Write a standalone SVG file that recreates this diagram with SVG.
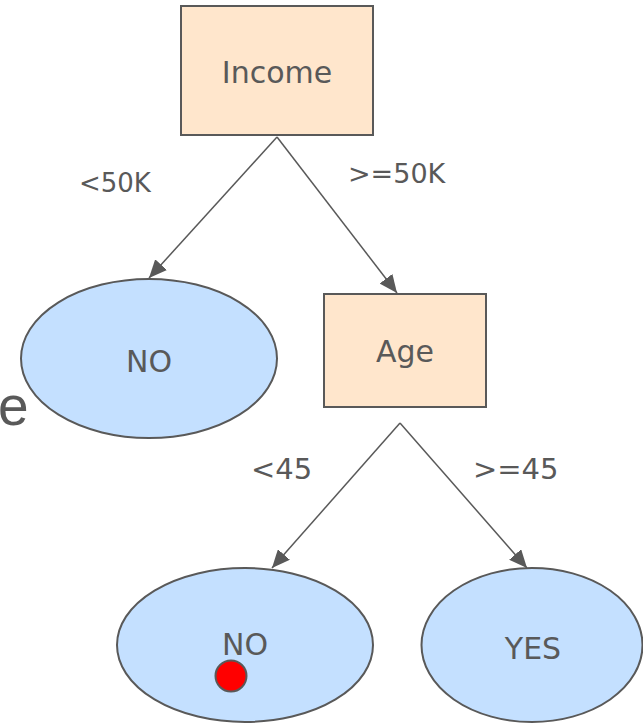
<svg xmlns="http://www.w3.org/2000/svg" width="643" height="724" viewBox="0 0 643 724">
<style>
.box{fill:#ffe6cc;stroke:#595959;stroke-width:2}
.leaf{fill:#c4e0ff;stroke:#595959;stroke-width:2}
.t{font-family:"DejaVu Sans",Verdana,sans-serif;fill:#595959}
.edge{stroke:#595959;stroke-width:1.5;fill:none;marker-end:url(#ah)}
</style>
<defs>
<marker id="ah" markerUnits="userSpaceOnUse" markerWidth="20" markerHeight="16" refX="18" refY="8" orient="auto">
<path d="M0,0 L18,8 L0,16 Z" fill="#595959"/>
</marker>
</defs>
<rect width="643" height="724" fill="#ffffff"/>
<text x="-2" y="425" font-family="Liberation Sans,Arial,sans-serif" font-size="55" fill="#595959">e</text>
<g id="connectors">
<line class="edge" x1="277" y1="137" x2="149" y2="278"/>
<line class="edge" x1="277" y1="137" x2="397" y2="293"/>
<line class="edge" x1="400" y1="423" x2="272" y2="568"/>
<line class="edge" x1="400" y1="423" x2="527" y2="568"/>
<text class="t" x="79" y="192" font-size="26">&lt;50K</text>
<text class="t" x="348" y="183" font-size="27">&gt;=50K</text>
<text class="t" x="251" y="479" font-size="29">&lt;45</text>
<text class="t" x="473" y="479" font-size="29">&gt;=45</text>
</g>
<g id="income">
<rect class="box" x="181" y="6" width="192" height="129"/>
<text class="t" x="277" y="83" font-size="30" text-anchor="middle">Income</text>
</g>
<g id="no1">
<ellipse class="leaf" cx="149" cy="358.5" rx="128" ry="79.5"/>
<text class="t" x="149" y="372" font-size="30" text-anchor="middle">NO</text>
</g>
<g id="age">
<rect class="box" x="324" y="294" width="162" height="113"/>
<text class="t" x="405" y="362" font-size="30" text-anchor="middle">Age</text>
</g>
<g id="no2">
<ellipse class="leaf" cx="245" cy="645" rx="128" ry="77"/>
<text class="t" x="245" y="655" font-size="30" text-anchor="middle">NO</text>
<circle cx="231" cy="676" r="15.5" fill="#ff0000" stroke="#595959" stroke-width="2"/>
</g>
<g id="yes">
<ellipse class="leaf" cx="532" cy="645" rx="110.5" ry="77"/>
<text class="t" x="533" y="659" font-size="30" text-anchor="middle">YES</text>
</g>
</svg>
